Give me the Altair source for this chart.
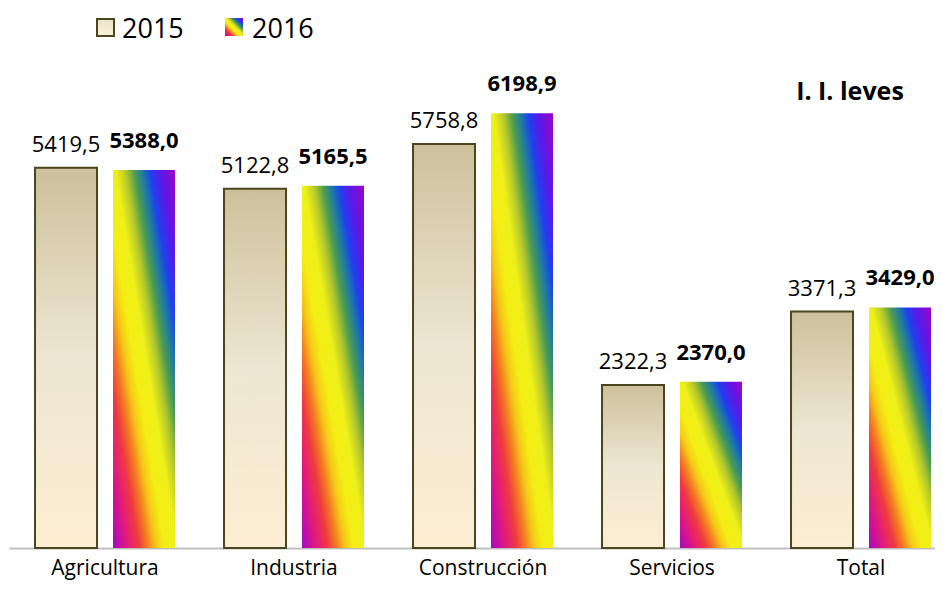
import altair as alt
import pandas as pd

categories = ["Agricultura", "Industria", "Construcción", "Servicios", "Total"]
values_2015 = [5419.5, 5122.8, 5758.8, 2322.3, 3371.3]
values_2016 = [5388.0, 5165.5, 6198.9, 2370.0, 3429.0]
series = ["2015", "2016"]
title_text = "I. I. leves"

rows = []
for c, a, b in zip(categories, values_2015, values_2016):
    rows.append({"cat": c, "serie": series[0], "valor": a})
    rows.append({"cat": c, "serie": series[1], "valor": b})
df = pd.DataFrame(rows)
df["etiqueta"] = df["valor"].map(lambda v: f"{v:.1f}".replace(".", ","))

FONT = "Open Sans"

grad_2015 = alt.LinearGradient(
    gradient="linear", x1=0, y1=0, x2=0, y2=1,
    stops=[
        alt.GradientStop(offset=0, color="#cdc09b"),
        alt.GradientStop(offset=0.5, color="#eee6d2"),
        alt.GradientStop(offset=1, color="#fdeed2"),
    ],
)
grad_leg_2015 = alt.LinearGradient(
    gradient="linear", x1=0, y1=0, x2=0, y2=1,
    stops=[
        alt.GradientStop(offset=0, color="#ebe3c8"),
        alt.GradientStop(offset=1, color="#fbf1dc"),
    ],
)
rainbow = [
    (0.00, "#a00cc0"), (0.07, "#cc109a"), (0.14, "#e62070"), (0.21, "#ee3a40"),
    (0.28, "#f37a22"), (0.35, "#f5c818"), (0.42, "#f4ee14"), (0.52, "#eef018"),
    (0.60, "#b5c82c"), (0.67, "#4e9c50"), (0.74, "#1c78a8"), (0.80, "#2040ee"),
    (0.88, "#5a18e8"), (1.00, "#9c06c4"),
]
grad_2016 = alt.LinearGradient(
    gradient="linear", x1=0, y1=1, x2=1, y2=0,
    stops=[alt.GradientStop(offset=o, color=c) for o, c in rainbow],
)

x = alt.X(
    "cat:N", sort=categories,
    scale=alt.Scale(paddingInner=0.2593, paddingOuter=0.0794, align=0.867),
    axis=alt.Axis(title=None, labelAngle=0, ticks=False, domainColor="#bfbfbf",
                  domainWidth=2, labelFont=FONT, labelFontSize=21, labelColor="#000000",
                  labelPadding=9, grid=False),
)
xo = alt.XOffset("serie:N", sort=series,
                 scale=alt.Scale(domain=series, paddingInner=0.205, paddingOuter=0))
y = alt.Y("valor:Q", scale=alt.Scale(domain=[0, 7000], nice=False, zero=True), axis=None)

base = alt.Chart(df).encode(x=x, xOffset=xo, y=y)

bars15 = base.transform_filter(alt.datum.serie == series[0]).mark_bar(
    fill=grad_2015, stroke="#4b4620", strokeWidth=2)
bars16 = base.transform_filter(alt.datum.serie == series[1]).mark_bar(
    fill=grad_2016, strokeWidth=0)
text15 = base.transform_filter(alt.datum.serie == series[0]).mark_text(
    font=FONT, fontSize=22, baseline="alphabetic", dy=-16, color="#000000"
).encode(text="etiqueta:N")
text16 = base.transform_filter(alt.datum.serie == series[1]).mark_text(
    font=FONT, fontSize=22, fontWeight="bold", baseline="alphabetic", dy=-22, color="#000000"
).encode(text="etiqueta:N")

# plot area starts at page x = 9, y = 57
title = alt.Chart(pd.DataFrame({"t": [title_text]})).mark_text(
    font=FONT, fontSize=25, fontWeight="bold", align="center", baseline="alphabetic",
    color="#000000"
).encode(text="t:N", x=alt.value(841), y=alt.value(43))

leg_df15 = pd.DataFrame({"t": [series[0]]})
leg_df16 = pd.DataFrame({"t": [series[1]]})
leg_sq15 = alt.Chart(leg_df15).mark_rect(
    fill=grad_leg_2015, stroke="#4b4620", strokeWidth=2
).encode(x=alt.value(88), x2=alt.value(105), y=alt.value(-38), y2=alt.value(-21))
leg_sq16 = alt.Chart(leg_df16).mark_rect(fill=grad_2016).encode(
    x=alt.value(216), x2=alt.value(234), y=alt.value(-39), y2=alt.value(-21))
leg_t15 = alt.Chart(leg_df15).mark_text(
    font=FONT, fontSize=27, align="left", baseline="alphabetic", color="#000000"
).encode(text="t:N", x=alt.value(113), y=alt.value(-19))
leg_t16 = alt.Chart(leg_df16).mark_text(
    font=FONT, fontSize=27, align="left", baseline="alphabetic", color="#000000"
).encode(text="t:N", x=alt.value(243), y=alt.value(-19))

chart = alt.layer(
    bars15, bars16, text15, text16, title, leg_sq15, leg_sq16, leg_t15, leg_t16
).properties(
    width=926, height=491,
    padding={"left": 1, "top": 49, "right": 0, "bottom": 32},
    autosize=alt.AutoSizeParams(type="none"),
    background="white",
).configure_view(stroke=None)

chart.save("out.html", embed_options={"renderer": "svg", "actions": False})
